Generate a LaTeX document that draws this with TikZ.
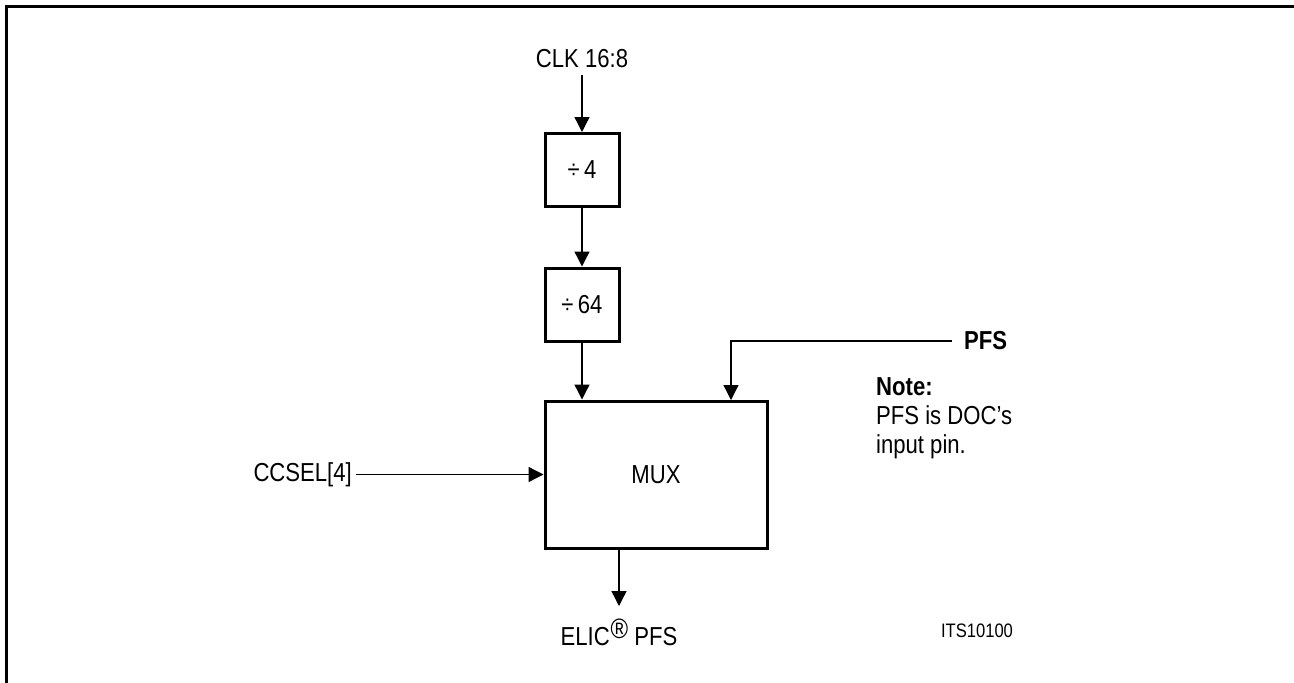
\documentclass[tikz,border=0pt]{standalone}
\usepackage{fontspec}
\setmainfont{Liberation Sans}[FakeStretch=0.85]
\usetikzlibrary{arrows.meta}
\begin{document}
\begin{tikzpicture}[x=1pt,y=-1pt,
  every node/.style={font=\fontsize{26}{29}\selectfont, inner sep=0pt},
  blk/.style={draw, line width=3pt, minimum width=74pt, minimum height=73pt},
  arr/.style={line width=1.3pt, -{Triangle[length=15pt,width=15pt]}},
  wire/.style={line width=1.3pt}]
\useasboundingbox (0,0) rectangle (1294,683);
\draw[line width=3pt] (6,683) -- (6,6) -- (1294,6);
% nodes
\node[anchor=base, inner ysep=8pt] (clk) at (582,67) {CLK 16:8};
\node[blk] (div4) at (582,170) {÷\,4};
\node[blk] (div64) at (582,304.5) {÷\,64};
\node[draw, line width=3pt, minimum width=222pt, minimum height=147pt] (mux) at (656,474.5) {MUX};
\node[anchor=east, inner xsep=4pt] (ccsel) at (356,475) {CCSEL[4]};
\node[anchor=west, inner xsep=12pt, font=\fontsize{26}{29}\selectfont\bfseries] (pfs) at (952,341) {PFS};
\coordinate (muxin2) at (731,400);
\node[anchor=north west, align=left] (note) at (876,377) {\textbf{Note:}\\PFS is DOC’s\\input pin.};
\coordinate (outend) at (619,606);
\node[anchor=base] (elic) at (619,645) {ELIC\kern1pt\raisebox{7pt}{\fontsize{28}{28}\selectfont\textregistered}\ PFS};
\node[anchor=base, font=\fontsize{19.5}{22}\selectfont] (its) at (977,637) {ITS10100};
% connectors
\draw[arr] (clk.south) -- (div4.north);
\draw[arr] (div4.south) -- (div64.north);
\draw[arr] (div64.south) -- (div64.south |- mux.north);
\draw[arr] (pfs.west) -| (muxin2);
\draw[arr] (ccsel.east |- mux.west) -- (mux.west);
\draw[arr] (mux.south -| outend) -- (outend);
\end{tikzpicture}
\end{document}
